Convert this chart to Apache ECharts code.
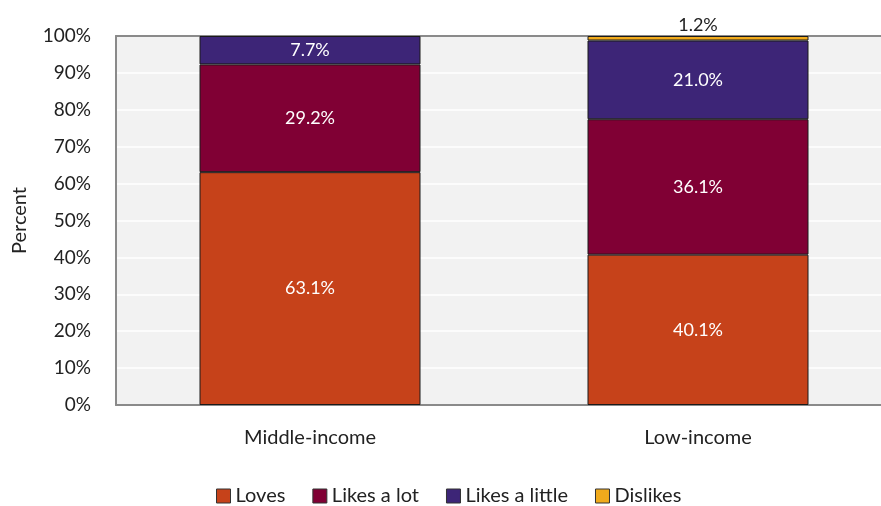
<!DOCTYPE html>
<html>
<head>
<meta charset="utf-8">
<script src="https://cdn.jsdelivr.net/npm/echarts@6/dist/echarts.min.js"></script>
<style>
  html, body { margin: 0; padding: 0; background: #ffffff; overflow: hidden; }
  #chart { width: 881px; height: 506px; }
</style>
</head>
<body>
<div id="chart"></div>
<script>
// Survey responses by income group (percent of respondents)
const categories = ['Middle-income', 'Low-income'];
const seriesNames = ['Loves', 'Likes a lot', 'Likes a little', 'Dislikes'];
const loves = [63.1, 40.1];
const likesALot = [29.2, 36.1];
const likesALittle = [7.7, 21.0];
const dislikes = [0, 1.2];
const yTicks = [0, 10, 20, 30, 40, 50, 60, 70, 80, 90, 100];

const colors = ['#C6421A', '#800034', '#3D2577', '#F0AA1C'];
const raw = [loves, likesALot, likesALittle, dislikes];

// 100% stacked: each group's segments are scaled to fill the column
const totals = categories.map((_, i) => raw.reduce((s, arr) => s + arr[i], 0));

const FONT = 'Lato';
const AXIS_GRAY = '#8A8A8A';

const series = raw.map((arr, k) => ({
  name: seriesNames[k],
  type: 'bar',
  stack: 'total',
  barWidth: 221,
  data: arr.map((v, i) => (v > 0 ? { value: v / totals[i] * 100, raw: v } : '-')),
  itemStyle: { color: colors[k], borderColor: '#1a1a1a', borderWidth: 1 },
  label: {
    show: true,
    position: k === 3 ? 'top' : 'inside',
    distance: 2,
    color: k === 3 ? '#222222' : '#ffffff',
    fontFamily: FONT,
    fontSize: 18,
    formatter: p => p.data.raw.toFixed(1) + '%'
  },
  emphasis: { disabled: true }
}));

const chart = echarts.init(document.getElementById('chart'), null, { renderer: 'canvas' });
chart.setOption({
  animation: false,
  textStyle: { fontFamily: FONT },
  grid: {
    left: 116, width: 776, top: 36, height: 369,
    outerBoundsMode: 'none',
    containLabel: false,
    show: true, backgroundColor: '#F2F2F2', borderWidth: 0
  },
  legend: {
    data: seriesNames,
    top: 481,
    left: 211,
    icon: 'rect',
    itemWidth: 14,
    itemHeight: 14,
    itemGap: 27,
    itemStyle: { borderColor: '#333333', borderWidth: 1 },
    textStyle: { fontFamily: FONT, fontSize: 20, color: '#222222' }
  },
  xAxis: [
    {
      type: 'category',
      data: categories,
      axisLine: { show: true, lineStyle: { color: AXIS_GRAY, width: 2 } },
      axisTick: { show: false },
      splitLine: { show: false },
      axisLabel: { color: '#222222', fontSize: 20, fontFamily: FONT, margin: 23 }
    },
    {
      // top frame line of the plot area
      type: 'category',
      data: categories,
      position: 'top',
      axisLine: { show: true, lineStyle: { color: AXIS_GRAY, width: 2 } },
      axisTick: { show: false },
      axisLabel: { show: false },
      splitLine: { show: false }
    }
  ],
  yAxis: {
    type: 'value',
    min: 0,
    max: 100,
    interval: 10,
    name: 'Percent',
    nameLocation: 'middle',
    nameGap: 86,
    nameTextStyle: { color: '#222222', fontSize: 20, fontFamily: FONT },
    axisLine: { show: true, lineStyle: { color: AXIS_GRAY, width: 2 } },
    axisTick: { show: false },
    splitLine: { show: true, lineStyle: { color: '#FFFFFF', width: 1.5 } },
    axisLabel: {
      color: '#222222', fontSize: 19, fontFamily: FONT, margin: 25,
      formatter: v => (yTicks.includes(v) ? v + '%' : '')
    }
  },
  series: series
});
</script>
</body>
</html>
